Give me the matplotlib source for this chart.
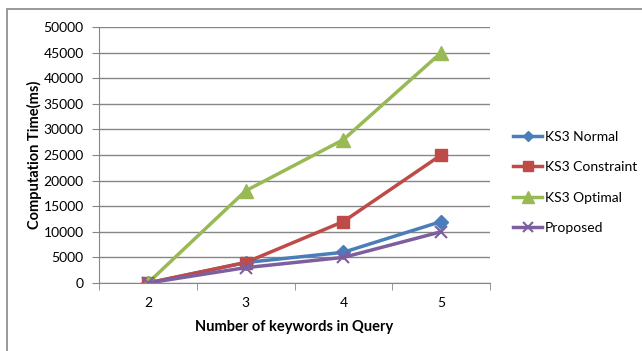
import matplotlib.pyplot as plt
from matplotlib.patches import Rectangle

keywords = ['2', '3', '4', '5']
ks3_normal = [0, 4000, 6000, 12000]
ks3_constraint = [0, 4000, 12000, 25000]
ks3_optimal = [0, 18000, 28000, 45000]
proposed = [0, 3000, 5000, 10000]

blue = '#4A7EBB'
red = '#BE4B48'
green = '#98B954'
purple = '#7D5FA0'
grid_gray = '#868686'

plt.rcParams['font.family'] = ['Lato', 'DejaVu Sans']

W, H = 642, 351
fig = plt.figure(figsize=(W / 100, H / 100), dpi=100)
ax = fig.add_axes([99 / W, 1 - 283 / H, (490 - 99) / W, (283 - 27) / H])

# outer chart border
fig.patches.append(Rectangle((7 / W, -0.1), 1.2, 1 - 9 / H + 0.1,
                             transform=fig.transFigure, fill=False,
                             edgecolor='#888888', linewidth=1.2))

x = range(len(keywords))
ax.plot(x, ks3_normal, color=blue, linewidth=2.5, marker='D', markersize=7,
        label='KS3 Normal')
ax.plot(x, ks3_constraint, color=red, linewidth=2.5, marker='s', markersize=9,
        label='KS3 Constraint')
ax.plot(x, ks3_optimal, color=green, linewidth=2.5, marker='^', markersize=10,
        label='KS3 Optimal')
ax.plot(x, proposed, color=purple, linewidth=2.5, marker='x', markersize=9,
        markeredgewidth=1.5, label='Proposed')

ax.set_xlim(-0.5, 3.5)
ax.set_ylim(0, 50000)
ax.set_yticks(range(0, 50001, 5000))
ax.set_xticks(x)
ax.set_xticklabels(keywords)
ax.set_xticks([-0.5, 0.5, 1.5, 2.5, 3.5], minor=True)
ax.tick_params(axis='x', which='major', length=0, pad=10, labelsize=10)
ax.tick_params(axis='x', which='minor', length=5, color=grid_gray, direction='out')
ax.tick_params(axis='y', length=5, color=grid_gray, labelsize=10, pad=6)

ax.yaxis.grid(True, color=grid_gray, linewidth=1)
ax.set_axisbelow(True)
for side in ['top', 'right']:
    ax.spines[side].set_visible(False)
ax.spines['left'].set_color(grid_gray)
ax.spines['bottom'].set_color(grid_gray)

ax.set_xlabel('Number of keywords in Query', fontsize=10.5, fontweight='bold',
              labelpad=8)
ax.set_ylabel('Computation Time(ms)', fontsize=10.5, fontweight='bold',
              labelpad=1)

ax.legend(loc='upper left', bbox_to_anchor=(513 / W, 1 - 131 / H),
          bbox_transform=fig.transFigure, frameon=False, borderpad=0,
          borderaxespad=0, fontsize=10, handlelength=2.1, labelspacing=1.32,
          handletextpad=0.2, markerscale=0.8)

fig.savefig('out.png', dpi=100)
